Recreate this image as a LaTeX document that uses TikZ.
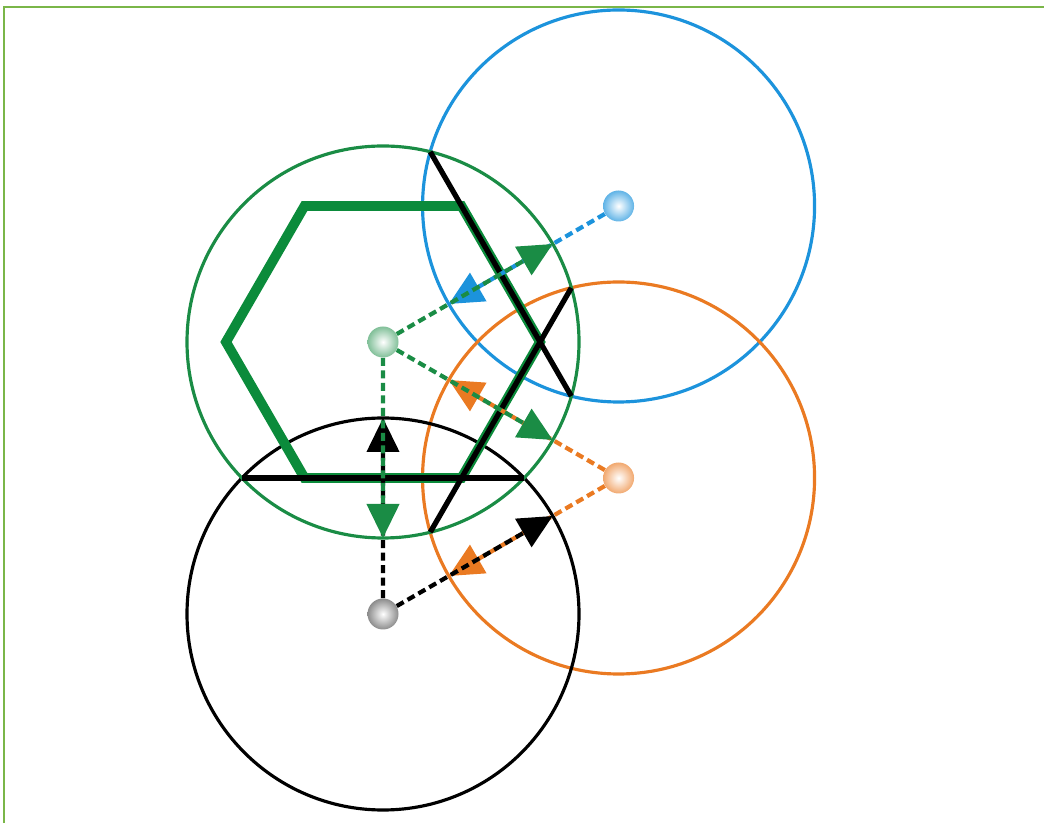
\documentclass[tikz,border=0pt]{standalone}
\usepackage{tikz}
\usetikzlibrary{calc,arrows.meta}
\definecolor{hexg}{HTML}{0B8B3B}
\definecolor{cg}{HTML}{1A8C45}
\definecolor{cb}{HTML}{1C93DC}
\definecolor{co}{HTML}{EA7A22}
\definecolor{frameg}{HTML}{7AB648}
\tikzset{
  ring/.style={line width=1.8pt},
  nn/.style={line width=2.4pt,dash pattern=on 1.6mm off 0.9mm,-{Triangle[length=6.8mm,width=6.4mm]}},
  chord/.style={line width=3pt,black},
  atom/.style={circle,minimum size=6.2mm,inner sep=0pt,shading=radial,inner color=white}
}
\newcommand{\sph}[3]{\node[atom,outer color=#3] (#1) at (#2) {};}

\begin{document}
\begin{tikzpicture}[x=2cm,y=2cm]
\useasboundingbox (0,0) rectangle (10.44,8.23);
\draw[frameg,line width=1.4pt] (0.04,0) -- (0.04,8.16) -- (10.44,8.16);
% lattice sites
\coordinate (G) at (3.83,4.81);
\coordinate (B) at ($(G)+(30:2.72)$);
\coordinate (O) at ($(G)+(-30:2.72)$);
\coordinate (K) at ($(G)+(-90:2.72)$);
% circles
\draw[ring,cb] (B) circle (1.96);
\draw[ring,co] (O) circle (1.96);
\draw[ring,black] (K) circle (1.96);
\draw[ring,cg] (G) circle (1.96);
% cell
\draw[hexg,line width=5.6pt,line join=miter] ($(G)+(0:1.57)$)
  \foreach \k in {60,120,...,300}{ -- ($(G)+(\k:1.57)$)} -- cycle;
% common chords
\draw[chord] ($(G)!0.5!(B)+(120:1.41)$) -- ($(G)!0.5!(B)+(-60:1.41)$);
\draw[chord] ($(G)!0.5!(O)+(60:1.41)$) -- ($(G)!0.5!(O)+(-120:1.41)$);
\draw[chord] ($(G)!0.5!(K)+(180:1.41)$) -- ($(G)!0.5!(K)+(0:1.41)$);
% atoms
\sph{g}{G}{cg!55!white}
\sph{b}{B}{cb!70!white}
\sph{o}{O}{co!65!white}
\sph{k}{K}{gray!90}
% circle edges
\coordinate (gb) at ($(G)!0.7206!(B)$);
\coordinate (go) at ($(G)!0.7206!(O)$);
\coordinate (gk) at ($(G)!0.7206!(K)$);
\coordinate (bg) at ($(B)!0.7206!(G)$);
\coordinate (og) at ($(O)!0.7206!(G)$);
\coordinate (ok) at ($(O)!0.7206!(K)$);
\coordinate (kg) at ($(K)!0.7206!(G)$);
\coordinate (ko) at ($(K)!0.7206!(O)$);
% neighbour distances
\draw[nn,cb] (b) -- (bg);
\draw[nn,co] (o) -- (og);
\draw[nn,co] (o) -- (ok);
\draw[nn,black] (k) -- (kg);
\draw[nn,black] (k) -- (ko);
\draw[nn,cg] (g) -- (gb);
\draw[nn,cg] (g) -- (go);
\draw[nn,cg] (g) -- (gk);
\end{tikzpicture}
\end{document}
